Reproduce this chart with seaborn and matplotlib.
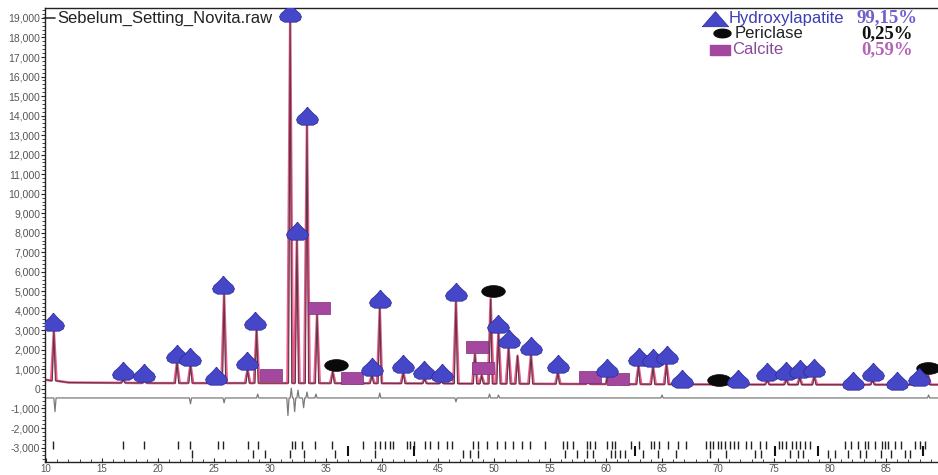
import numpy as np
import pandas as pd
import seaborn as sns
import matplotlib.pyplot as plt
from matplotlib.ticker import FuncFormatter, MultipleLocator

# measured pattern: background and peak tops (2theta in degrees, counts)
bg_pos = [9.9, 12, 20, 30, 40, 50, 60, 70, 80, 89.7]
bg_cnt = [480, 330, 300, 300, 290, 270, 250, 230, 220, 220]

peak_pos = [10.7, 16.9, 18.8, 21.7, 22.9, 25.2, 25.9, 28.0, 28.8, 31.8, 32.4, 33.3,
            34.2, 35.6, 37.0, 39.1, 39.8, 41.9, 43.8, 45.3, 46.6, 48.3, 48.9, 49.7,
            50.4, 51.3, 52.1, 53.3, 55.7, 58.4, 60.1, 61.1, 62.9, 64.2, 65.4, 66.8,
            70.1, 71.8, 74.4, 76.1, 77.3, 78.6, 82.0, 83.8, 86.0, 87.9, 88.75]
peak_top = [3000, 480, 420, 1400, 1250, 380, 4850, 1000, 3050, 18900, 7650, 13550,
            3800, 900, 350, 700, 4150, 850, 520, 400, 4500, 1800, 700, 4600,
            2900, 2100, 1700, 1750, 850, 330, 650, 300, 1200, 1150, 1300, 300,
            280, 300, 450, 500, 600, 650, 250, 450, 250, 350, 700]

# difference curve (obs - calc), offset baseline and deviations
diff_base = -460
diff_pos = [10.8, 22.9, 25.9, 28.9, 31.6, 31.9, 32.2, 32.5, 33.0, 33.3, 34.1,
            39.8, 46.6, 49.6, 50.4, 65.0, 88.8]
diff_amp = [-700, -300, -250, 200, -900, 500, -700, 400, -500, 300, 200,
            250, -200, 200, 150, 150, 150]

# phase identification markers
ha_pos = [10.65, 16.85, 18.75, 21.7, 22.85, 25.2, 25.8, 27.95, 28.7, 31.8, 32.4, 33.3,
          39.1, 39.8, 41.9, 43.75, 45.35, 46.6, 50.35, 51.3, 53.3, 55.7, 60.1, 62.95,
          64.2, 65.4, 66.8, 71.8, 74.4, 76.1, 77.3, 78.6, 82.05, 83.8, 86.0, 87.9]
ha_y = [3400, 870, 780, 1750, 1600, 600, 5250, 1380, 3450, 19200, 8050, 13950,
        1080, 4560, 1230, 920, 770, 4900, 3280, 2500, 2150, 1230, 1030, 1590,
        1540, 1690, 460, 460, 820, 870, 970, 1030, 360, 820, 360, 560]
per_pos = [35.9, 49.9, 70.1, 88.75]
per_y = [1230, 5000, 460, 1080]
cal_pos = [30.1, 34.4, 37.3, 48.5, 49.0, 58.6, 61.1]
cal_y = [720, 4150, 560, 2150, 1080, 620, 510]

# reflection positions (tick rows)
ha_ticks = [10.6, 16.9, 18.75, 21.8, 22.9, 25.4, 25.8, 28.0, 28.9, 32.0, 32.2, 32.9, 34.0,
            35.5, 38.3, 39.4, 39.8, 40.3, 40.7, 41.0, 42.2, 42.5, 42.9, 43.8, 44.3, 45.0,
            45.8, 46.25, 48.1, 48.6, 49.4, 50.3, 51.0, 51.7, 52.5, 53.2, 54.55, 56.2, 56.5,
            57.05, 58.3, 58.6, 59.0, 60.1, 60.5, 60.8, 62.2, 62.9, 64.0, 64.3, 64.75, 65.5,
            66.4, 67.1, 68.9, 69.3, 69.55, 70.0, 70.3, 70.6, 71.1, 71.4, 71.8, 72.5, 72.9,
            73.75, 74.3, 75.4, 75.7, 76.1, 76.6, 77.0, 77.3, 77.8, 78.2, 81.3, 81.9, 82.5,
            83.1, 83.4, 84.0, 84.6, 84.9, 85.2, 85.8, 86.3, 87.6, 88.0, 88.5]
cal_ticks = [23.0, 28.5, 29.55, 31.8, 33.0, 35.8, 39.4, 47.2, 47.9, 48.6, 56.3, 57.4,
             58.3, 58.8, 60.4, 60.8, 61.25, 61.7, 63.3, 64.6, 66.25, 69.3, 70.7, 73.3,
             73.8, 76.4, 77.1, 77.6, 79.8, 80.4, 81.6, 82.7, 83.2, 84.55, 85.4, 86.7, 87.1]
per_ticks = [37.0, 42.9, 62.6, 75.1, 78.9, 88.3]

legend_names = ["Hydroxylapatite", "Periclase", "Calcite"]
legend_pct = ["99,15%", "0,25%", "0,59%"]

W, H = 938, 475


def fx(px):
    return px / W


def fy(py):
    return 1 - py / H


def trace(hw):
    xs = list(bg_pos)
    ys = list(bg_cnt)
    feet = np.interp(peak_pos, bg_pos, bg_cnt)
    for p, t, f in zip(peak_pos, peak_top, feet):
        xs += [p - hw, p, p + hw]
        ys += [f, t, f]
    df = pd.DataFrame({"x": xs, "y": ys}).sort_values("x", kind="stable")
    return df


sns.set_theme(style="white")
plt.rcParams["font.family"] = ["Liberation Sans", "DejaVu Sans"]

fig = plt.figure(figsize=(W / 100, H / 100), dpi=100)
ax = fig.add_axes([fx(45), 1 - 462 / H, (W - 45) / W, (462 - 8) / H])

obs = trace(0.24)
calc = trace(0.14)
ax.plot(obs["x"], obs["y"], color="#ec5a8a", lw=1.8, zorder=2)
ax.plot(calc["x"], calc["y"], color="#5a3a4a", lw=0.8, zorder=3)

# difference curve
dx = [9.9]
dy = [diff_base]
for p, a in zip(diff_pos, diff_amp):
    dx += [p - 0.1, p, p + 0.1]
    dy += [diff_base, diff_base + a, diff_base]
dx.append(89.7)
dy.append(diff_base)
sns.lineplot(x=dx, y=dy, sort=False, estimator=None, color="#7a7a7a", lw=0.9, ax=ax)

# reflection tick rows
ax.vlines(ha_ticks, -3050, -2650, color="#222222", lw=1.0)
ax.vlines(cal_ticks, -3550, -3150, color="#222222", lw=1.0)
ax.vlines(per_ticks, -3450, -2900, color="#111111", lw=1.5)

# markers
tree = [(0, 0.95), (0.3, 0.6), (0.55, 0.35), (0.85, 0.1), (1.0, -0.2), (0.9, -0.5),
        (0.55, -0.7), (-0.55, -0.7), (-0.9, -0.5), (-1.0, -0.2), (-0.85, 0.1),
        (-0.55, 0.35), (-0.3, 0.6), (0, 0.95)]
t = np.linspace(0, 2 * np.pi, 30)
ellipse = list(zip(np.cos(t), 0.5 * np.sin(t)))
rect = [(-1, -0.5), (1, -0.5), (1, 0.5), (-1, 0.5), (-1, -0.5)]
tri = [(-1, -0.55), (1, -0.55), (0, 0.6), (-1, -0.55)]

sns.scatterplot(x=cal_pos, y=cal_y, marker=rect, s=260, color="#a3479f",
                edgecolor="#7e2a80", linewidth=0.5, zorder=4, ax=ax)
sns.scatterplot(x=per_pos, y=per_y, marker=ellipse, s=290, color="#0a0a0a",
                edgecolor="#0a0a0a", linewidth=0.5, zorder=5, ax=ax)
sns.scatterplot(x=ha_pos, y=ha_y, marker=tree, s=250, color="#4646c8",
                edgecolor="#2a2a9a", linewidth=0.5, zorder=6, ax=ax)

ax.set_xlim(9.91, 89.64)
ax.set_ylim(-3740, 19510)
ax.xaxis.set_major_locator(MultipleLocator(5))
ax.xaxis.set_minor_locator(MultipleLocator(1))
ax.yaxis.set_major_locator(MultipleLocator(1000))
ax.yaxis.set_minor_locator(MultipleLocator(200))
ax.yaxis.set_major_formatter(FuncFormatter(lambda v, _: f"{v:,.0f}"))
ax.tick_params(axis="y", which="major", direction="out", length=3, width=0.8,
               labelsize=7.5, labelcolor="#555555", pad=0.5, left=True)
ax.tick_params(axis="y", which="minor", direction="out", length=2, width=0.6, left=True)
ax.tick_params(axis="x", which="major", direction="in", length=3, width=0.8,
               labelsize=7, labelcolor="#555555", pad=1.5, bottom=True)
ax.tick_params(axis="x", which="minor", direction="in", length=2, width=0.6, bottom=True)
ax.spines["right"].set_visible(False)
for s in ["left", "top", "bottom"]:
    ax.spines[s].set_color("#222222")
    ax.spines[s].set_linewidth(1.0)
ax.set_xlabel("")
ax.set_ylabel("")

# sample name with its line handle
ax.plot([fx(44), fx(55)], [fy(18), fy(18)], color="#333333", lw=1.2,
        transform=fig.transFigure, clip_on=False)
fig.text(fx(57), fy(18), "Sebelum_Setting_Novita.raw", fontsize=12, color="#222222",
         va="center", ha="left")

# phase legend
ax.scatter([fx(715)], [fy(19)], marker=tri, s=360, color="#4646c8", edgecolor="#2a2a9a",
           linewidth=0.5, transform=fig.transFigure, clip_on=False, zorder=10)
ax.scatter([fx(722)], [fy(33)], marker=ellipse, s=150, color="#0a0a0a",
           transform=fig.transFigure, clip_on=False, zorder=10)
ax.scatter([fx(720)], [fy(50)], marker=rect, s=200, color="#a3479f",
           transform=fig.transFigure, clip_on=False, zorder=10)
name_colors = ["#3c3cb4", "#222222", "#8a4a9a"]
pct_colors = ["#7060cc", "#111111", "#b565b5"]
for i, (nm, pc) in enumerate(zip(legend_names, legend_pct)):
    yy = [18, 34, 50][i]
    fig.text(fx([729, 735, 732][i]), fy(yy), nm, fontsize=12, color=name_colors[i],
             va="center", ha="left")
    fig.text(fx(887), fy(yy), pc, fontsize=13.5, fontweight="bold", color=pct_colors[i],
             va="center", ha="center", family="Liberation Serif")

fig.savefig("out.png", dpi=100)
